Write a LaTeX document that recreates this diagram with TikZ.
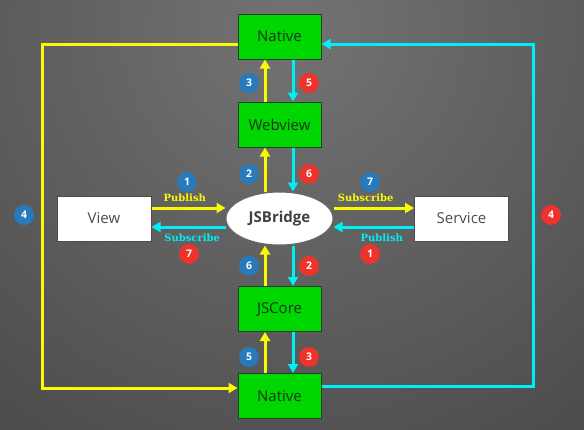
\documentclass[tikz,border=0pt]{standalone}
\usepackage{fontspec}
\setmainfont{Open Sans}
\newfontfamily\tagfont{DejaVu Serif}
\usetikzlibrary{arrows.meta,shapes.geometric}

\definecolor{bggray}{RGB}{115,115,115}
\definecolor{bgdark}{RGB}{44,44,44}
\definecolor{boxgreen}{RGB}{0,214,0}
\definecolor{boxedge}{RGB}{30,70,30}
\definecolor{boxtext}{RGB}{22,52,22}
\definecolor{pubyellow}{RGB}{250,250,0}
\definecolor{subcyan}{RGB}{0,238,245}
\definecolor{badgeblue}{RGB}{40,122,186}
\definecolor{badgered}{RGB}{236,52,44}

\tikzset{
  greenbox/.style={draw=boxedge,line width=1pt,fill=boxgreen,text=boxtext,
    minimum width=83pt,minimum height=45pt,font=\fontsize{15}{17}\selectfont},
  whitebox/.style={draw=black!70,line width=1pt,fill=white,text=black!70,
    minimum width=94pt,minimum height=45pt,font=\fontsize{15}{17}\selectfont},
  yarr/.style={pubyellow,line width=3pt,-{Triangle[width=10pt,length=9pt]}},
  carr/.style={subcyan,line width=3pt,-{Triangle[width=10pt,length=9pt]}},
  bluebadge/.style={circle,fill=badgeblue,text=white,inner sep=0pt,
    minimum size=20pt,font=\fontsize{10.5}{11}\selectfont\bfseries},
  redbadge/.style={bluebadge,fill=badgered},
  ytag/.style={text=pubyellow,font=\tagfont\fontsize{10}{10}\selectfont\bfseries,inner sep=0pt},
  ctag/.style={ytag,text=subcyan}
}

\begin{document}
\begin{tikzpicture}[x=1pt,y=-1pt]
  % background
  \begin{scope}
    \clip (0,0) rectangle (584,429);
    \shade[inner color=bggray,outer color=bgdark] (292,30) circle (900);
  \end{scope}
  \useasboundingbox (0,0) rectangle (584,429);

  % boxes
  \node[greenbox] (ntop) at (279.5,36.5) {Native};
  \node[greenbox] (wv) at (279.5,124.5) {Webview};
  \node[ellipse,draw=black!60,line width=1pt,fill=white,minimum width=107pt,
    minimum height=53pt,font=\fontsize{15}{17}\selectfont\bfseries,text=black!75]
    (br) at (279.5,218.5) {JSBridge};
  \node[greenbox] (core) at (279.5,309) {JSCore};
  \node[greenbox] (nbot) at (279.5,396) {Native};
  \node[whitebox] (view) at (104,218.5) {View};
  \node[whitebox] (srv) at (461.5,218.5) {Service};
  \coordinate (lft) at (42,216);
  \coordinate (rgt) at (533,216);

  % up / down
  \draw[yarr] ([xshift=-14.5pt]wv.north) -- ([xshift=-14.5pt]ntop.south);
  \draw[carr] ([xshift=13.5pt]ntop.south) -- ([xshift=13.5pt]wv.north);
  \draw[yarr] ([xshift=-14.5pt]br.north) -- ([xshift=-14.5pt]wv.south);
  \draw[carr] ([xshift=13.5pt]wv.south) -- ([xshift=13.5pt]br.north);
  \draw[yarr] ([xshift=-14.5pt]core.north) -- ([xshift=-14.5pt]br.south);
  \draw[carr] ([xshift=13.5pt]br.south) -- ([xshift=13.5pt]core.north);
  \draw[yarr] ([xshift=-14.5pt]nbot.north) -- ([xshift=-14.5pt]core.south);
  \draw[carr] ([xshift=13.5pt]core.south) -- ([xshift=13.5pt]nbot.north);

  % left / right
  \draw[yarr] ([yshift=10.5pt]view.east) -- ([yshift=10.5pt]br.west)
    node[ytag,pos=.45,above=5pt] {Publish};
  \draw[carr] ([yshift=-8.5pt]br.west) -- ([yshift=-8.5pt]view.east)
    node[ctag,pos=.45,below=5pt] {Subscribe};
  \draw[yarr] ([yshift=10.5pt]br.east) -- ([yshift=10.5pt]srv.west)
    node[ytag,pos=.4,above=5pt] {Subscribe};
  \draw[carr] ([yshift=-8.5pt]srv.west) -- ([yshift=-8.5pt]br.east)
    node[ctag,pos=.4,below=5pt] {Publish};

  % outer loops
  \draw[yarr] ([yshift=-7.5pt]ntop.west) -| (lft) |- ([yshift=8pt]nbot.west);
  \draw[carr] ([yshift=10pt]nbot.east) -| (rgt) |- ([yshift=-7.5pt]ntop.east);

  % badges
  \node[bluebadge] (b1) at (187,182) {1};
  \node[bluebadge] (b2) at (249,174) {2};
  \node[bluebadge] (b3) at (249,83) {3};
  \node[bluebadge] (b4) at (24,215) {4};
  \node[bluebadge] (b5) at (249,357) {5};
  \node[bluebadge] (b6) at (249,266) {6};
  \node[bluebadge] (b7) at (370,182) {7};
  \node[redbadge] (r1) at (370,254) {1};
  \node[redbadge] (r2) at (309,266) {2};
  \node[redbadge] (r3) at (309,357) {3};
  \node[redbadge] (r4) at (551,215) {4};
  \node[redbadge] (r5) at (309,83) {5};
  \node[redbadge] (r6) at (309,174) {6};
  \node[redbadge] (r7) at (189,254) {7};
\end{tikzpicture}
\end{document}
